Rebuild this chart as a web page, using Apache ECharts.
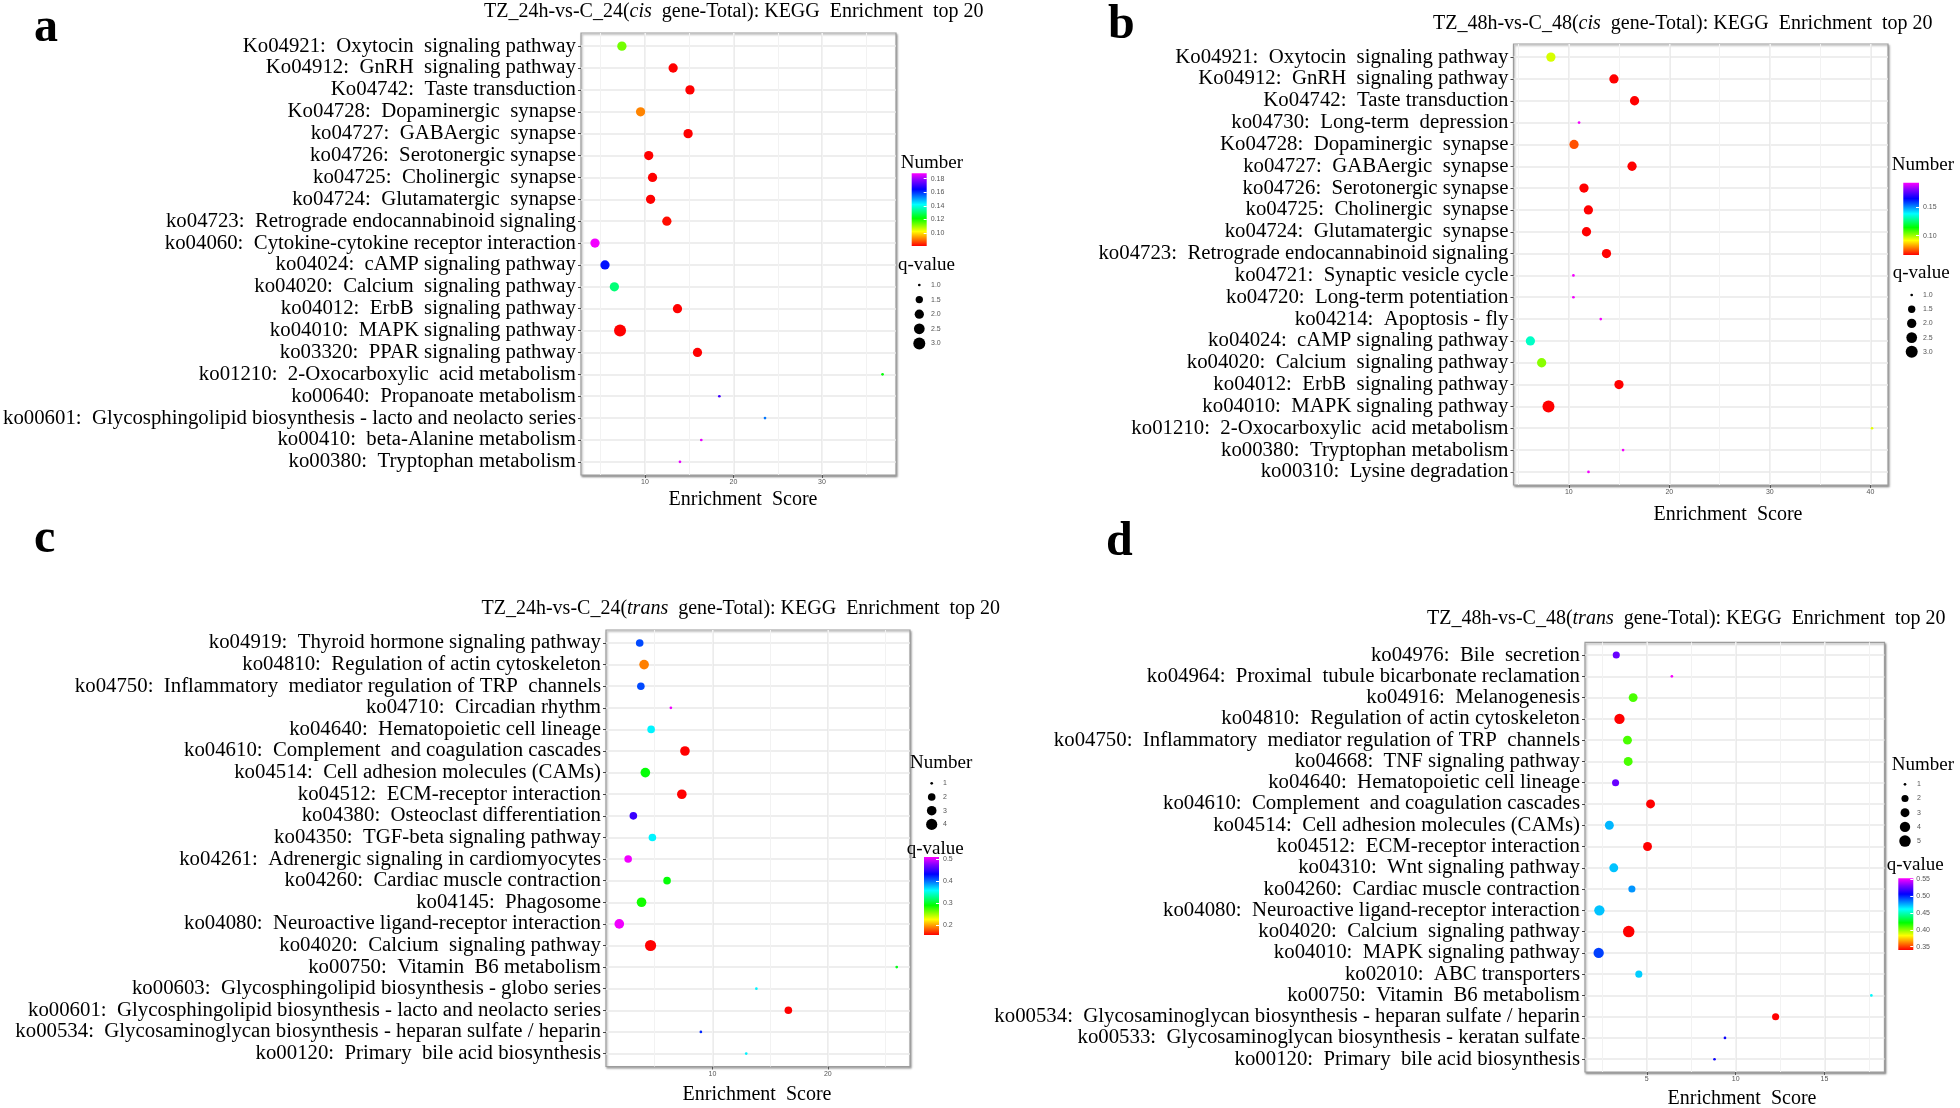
<!DOCTYPE html>
<html>
<head>
<meta charset="utf-8">
<script src="https://cdn.jsdelivr.net/npm/echarts@6/dist/echarts.min.js"></script>
<style>
html, body { margin: 0; padding: 0; background: #fff; }
#chart { width: 1960px; height: 1108px; }
</style>
</head>
<body>
<div id="chart"></div>
<script>
// ---- panel a: TZ_24h vs C_24, cis genes ----
const aTerms = [
  'Ko04921:  Oxytocin  signaling pathway', 'Ko04912:  GnRH  signaling pathway', 'Ko04742:  Taste transduction',
  'Ko04728:  Dopaminergic  synapse', 'ko04727:  GABAergic  synapse', 'ko04726:  Serotonergic synapse',
  'ko04725:  Cholinergic  synapse', 'ko04724:  Glutamatergic  synapse', 'ko04723:  Retrograde endocannabinoid signaling',
  'ko04060:  Cytokine-cytokine receptor interaction', 'ko04024:  cAMP signaling pathway', 'ko04020:  Calcium  signaling pathway',
  'ko04012:  ErbB  signaling pathway', 'ko04010:  MAPK signaling pathway', 'ko03320:  PPAR signaling pathway',
  'ko01210:  2-Oxocarboxylic  acid metabolism', 'ko00640:  Propanoate metabolism',
  'ko00601:  Glycosphingolipid biosynthesis - lacto and neolacto series', 'ko00410:  beta-Alanine metabolism',
  'ko00380:  Tryptophan metabolism'
];
const aScore = [7.39, 13.18, 15.08, 9.5, 14.87, 10.42, 10.85, 10.63, 12.47, 4.35, 5.48, 6.54, 13.67, 7.18, 15.93, 36.84, 18.4, 23.56, 16.36, 13.95];
const aColor = [0.113, 0.081, 0.081, 0.092, 0.081, 0.081, 0.081, 0.081, 0.082, 0.187, 0.163, 0.131, 0.081, 0.081, 0.081, 0.122, 0.171, 0.154, 0.186, 0.186];
const aSize = [2, 2, 2, 2, 2, 2, 2, 2, 2, 2, 2, 2, 2, 3, 2, 1, 1, 1, 1, 1];
const aSizeTicks = [1, 1.5, 2, 2.5, 3];

// ---- panel b: TZ_48h vs C_48, cis genes ----
const bTerms = [
  'Ko04921:  Oxytocin  signaling pathway', 'Ko04912:  GnRH  signaling pathway', 'Ko04742:  Taste transduction',
  'ko04730:  Long-term  depression', 'Ko04728:  Dopaminergic  synapse', 'ko04727:  GABAergic  synapse',
  'ko04726:  Serotonergic synapse', 'ko04725:  Cholinergic  synapse', 'ko04724:  Glutamatergic  synapse',
  'ko04723:  Retrograde endocannabinoid signaling', 'ko04721:  Synaptic vesicle cycle', 'ko04720:  Long-term potentiation',
  'ko04214:  Apoptosis - fly', 'ko04024:  cAMP signaling pathway', 'ko04020:  Calcium  signaling pathway',
  'ko04012:  ErbB  signaling pathway', 'ko04010:  MAPK signaling pathway', 'ko01210:  2-Oxocarboxylic  acid metabolism',
  'ko00380:  Tryptophan metabolism', 'ko00310:  Lysine degradation'
];
const bScore = [8.22, 14.49, 16.54, 11.02, 10.52, 16.29, 11.51, 11.95, 11.76, 13.75, 10.46, 10.46, 13.18, 6.18, 7.3, 14.99, 7.98, 40.16, 15.4, 11.96];
const bColor = [0.095, 0.066, 0.066, 0.192, 0.074, 0.066, 0.066, 0.066, 0.066, 0.066, 0.192, 0.192, 0.192, 0.133, 0.102, 0.066, 0.066, 0.094, 0.192, 0.192];
const bSize = [2, 2, 2, 1, 2, 2, 2, 2, 2, 2, 1, 1, 1, 2, 2, 2, 3, 1, 1, 1];
const bSizeTicks = [1, 1.5, 2, 2.5, 3];

// ---- panel c: TZ_24h vs C_24, trans genes ----
const cTerms = [
  'ko04919:  Thyroid hormone signaling pathway', 'ko04810:  Regulation of actin cytoskeleton',
  'ko04750:  Inflammatory  mediator regulation of TRP  channels', 'ko04710:  Circadian rhythm',
  'ko04640:  Hematopoietic cell lineage', 'ko04610:  Complement  and coagulation cascades',
  'ko04514:  Cell adhesion molecules (CAMs)', 'ko04512:  ECM-receptor interaction',
  'ko04380:  Osteoclast differentiation', 'ko04350:  TGF-beta signaling pathway',
  'ko04261:  Adrenergic signaling in cardiomyocytes', 'ko04260:  Cardiac muscle contraction',
  'ko04145:  Phagosome', 'ko04080:  Neuroactive ligand-receptor interaction', 'ko04020:  Calcium  signaling pathway',
  'ko00750:  Vitamin  B6 metabolism', 'ko00603:  Glycosphingolipid biosynthesis - globo series',
  'ko00601:  Glycosphingolipid biosynthesis - lacto and neolacto series',
  'ko00534:  Glycosaminoglycan biosynthesis - heparan sulfate / heparin', 'ko00120:  Primary  bile acid biosynthesis'
];
const cScore = [3.7, 4.08, 3.8, 6.4, 4.69, 7.62, 4.19, 7.35, 3.15, 4.8, 2.7, 6.07, 3.86, 1.93, 4.64, 25.97, 13.81, 16.58, 9.0, 12.93];
const cColor = [0.41, 0.19, 0.41, 0.505, 0.36, 0.155, 0.29, 0.155, 0.45, 0.36, 0.505, 0.29, 0.285, 0.505, 0.155, 0.295, 0.36, 0.155, 0.42, 0.36];
const cSize = [2, 3, 2, 1, 2, 3, 3, 3, 2, 2, 2, 2, 3, 3, 4, 1, 1, 2, 1, 1];
const cSizeTicks = [1, 2, 3, 4];

// ---- panel d: TZ_48h vs C_48, trans genes ----
const dTerms = [
  'ko04976:  Bile  secretion', 'ko04964:  Proximal  tubule bicarbonate reclamation', 'ko04916:  Melanogenesis',
  'ko04810:  Regulation of actin cytoskeleton', 'ko04750:  Inflammatory  mediator regulation of TRP  channels',
  'ko04668:  TNF signaling pathway', 'ko04640:  Hematopoietic cell lineage', 'ko04610:  Complement  and coagulation cascades',
  'ko04514:  Cell adhesion molecules (CAMs)', 'ko04512:  ECM-receptor interaction', 'ko04310:  Wnt signaling pathway',
  'ko04260:  Cardiac muscle contraction', 'ko04080:  Neuroactive ligand-receptor interaction',
  'ko04020:  Calcium  signaling pathway', 'ko04010:  MAPK signaling pathway', 'ko02010:  ABC transporters',
  'ko00750:  Vitamin  B6 metabolism', 'ko00534:  Glycosaminoglycan biosynthesis - heparan sulfate / heparin',
  'ko00533:  Glycosaminoglycan biosynthesis - keratan sulfate', 'ko00120:  Primary  bile acid biosynthesis'
];
const dScore = [3.28, 6.41, 4.23, 3.46, 3.91, 3.95, 3.24, 5.21, 2.89, 5.04, 3.14, 4.16, 2.33, 3.98, 2.29, 4.55, 17.64, 12.25, 9.4, 8.81];
const dColor = [0.527, 0.552, 0.41, 0.340, 0.41, 0.41, 0.527, 0.340, 0.474, 0.340, 0.472, 0.48, 0.472, 0.340, 0.495, 0.47, 0.462, 0.340, 0.508, 0.508];
const dSize = [2, 1, 3, 4, 3, 3, 2, 3, 3, 3, 3, 2, 4, 5, 4, 2, 1, 2, 1, 1];
const dSizeTicks = [1, 2, 3, 4, 5];

const SERIF = 'Liberation Serif';

// rainbow colour scale, red (low) -> magenta (high)
const rainbowStops = [[0, '#ff0000'], [0.1, '#ff8000'], [0.2, '#ffff00'], [0.38, '#00ff00'],
  [0.57, '#00ffff'], [0.78, '#0000ff'], [0.9, '#8000ff'], [1, '#ff00ff']];
function hexRgb(c) { return [1, 3, 5].map(i => parseInt(c.substr(i, 2), 16)); }
function rainbowAt(t) {
  for (let i = 1; i < rainbowStops.length; i++) {
    const [t0, c0] = rainbowStops[i - 1];
    const [t1, c1] = rainbowStops[i];
    if (t <= t1) {
      const f = (t - t0) / (t1 - t0), a = hexRgb(c0), b = hexRgb(c1);
      return 'rgb(' + a.map((v, k) => Math.round(v + (b[k] - v) * f)).join(',') + ')';
    }
  }
  return rainbowStops[rainbowStops.length - 1][1];
}
const rainbowColors = Array.from({ length: 41 }, (_, i) => rainbowAt(i / 40));
const barGradient = {
  type: 'linear', x: 0, y: 1, x2: 0, y2: 0,
  colorStops: rainbowStops.map(([o, c]) => ({ offset: o, color: c }))
};

const panels = [
  {
    title: 'TZ_24h-vs-C_24({i|cis}  gene-Total): KEGG  Enrichment  top 20', titlePos: [484, 1.6],
    letter: 'a', letterPos: [34, 29],
    grid: { left: 581, top: 33, width: 315, height: 442 },
    x: { min: 2.77, max: 38.36, step: 10 }, axisTitle: [743, 500],
    terms: aTerms, score: aScore, col: aColor, size: aSize,
    colRange: [0.081, 0.188], colStep: 0.02, colDec: 2,
    bar: { left: 911.7, top: 173.3, width: 15, height: 72.7, margin: 4 },
    sizeTicks: aSizeTicks, sizeDec: 1, dmax: 12,
    dots: { x: 919.3, y0: 285, step: 14.6, labelX: 931 },
    legendTitles: [['Number', 900.7, 162.7], ['q-value', 898, 265]]
  },
  {
    title: 'TZ_48h-vs-C_48({i|cis}  gene-Total): KEGG  Enrichment  top 20', titlePos: [1433, 13.6],
    letter: 'b', letterPos: [1108, 26],
    grid: { left: 1513.5, top: 44, width: 374.5, height: 441 },
    x: { min: 4.5, max: 41.75, step: 10 }, axisTitle: [1728, 515],
    terms: bTerms, score: bScore, col: bColor, size: bSize,
    colRange: [0.066, 0.193], colStep: 0.05, colDec: 2,
    bar: { left: 1903.3, top: 182.7, width: 15.7, height: 72.3, margin: 4 },
    sizeTicks: bSizeTicks, sizeDec: 1, dmax: 12,
    dots: { x: 1911.7, y0: 295, step: 14.2, labelX: 1923 },
    legendTitles: [['Number', 1891.7, 165], ['q-value', 1892.7, 273.3]]
  },
  {
    title: 'TZ_24h-vs-C_24({i|trans}  gene-Total): KEGG  Enrichment  top 20', titlePos: [481.5, 598.6],
    letter: 'c', letterPos: [34, 540],
    grid: { left: 606, top: 630, width: 304, height: 436.5 },
    x: { min: 0.78, max: 27.12, step: 10 }, axisTitle: [757, 1095],
    terms: cTerms, score: cScore, col: cColor, size: cSize,
    colRange: [0.155, 0.509], colStep: 0.1, colDec: 1,
    bar: { left: 924, top: 857, width: 15, height: 78, margin: 4 },
    sizeTicks: cSizeTicks, sizeDec: 0, dmax: 11.2,
    dots: { x: 931.7, y0: 783.3, step: 13.7, labelX: 943 },
    legendTitles: [['Number', 910, 763], ['q-value', 906.7, 849]]
  },
  {
    title: 'TZ_48h-vs-C_48({i|trans}  gene-Total): KEGG  Enrichment  top 20', titlePos: [1427, 609],
    letter: 'd', letterPos: [1106, 543],
    grid: { left: 1585, top: 642.3, width: 299.5, height: 429.7 },
    x: { min: 1.52, max: 18.38, step: 5 }, axisTitle: [1742, 1099],
    terms: dTerms, score: dScore, col: dColor, size: dSize,
    colRange: [0.340, 0.553], colStep: 0.05, colDec: 2,
    bar: { left: 1898.3, top: 878.3, width: 15, height: 71.7, margin: 3 },
    sizeTicks: dSizeTicks, sizeDec: 0, dmax: 11.5,
    dots: { x: 1905, y0: 784.3, step: 14.2, labelX: 1917 },
    legendTitles: [['Number', 1891.7, 765], ['q-value', 1886.7, 865]]
  }
];

// ggplot-like area scale: diameter grows with sqrt of the rescaled value
function dotSize(v, p) {
  const lo = p.sizeTicks[0], hi = p.sizeTicks[p.sizeTicks.length - 1];
  const t = Math.max(0, (v - lo) / (hi - lo));
  return 2.7 + (p.dmax - 2.7) * Math.sqrt(t);
}

const grid = [], xAxis = [], yAxis = [], series = [], visualMap = [], title = [], graphic = [];
const noLine = { show: false, onZero: false };

panels.forEach(p => {
  const n = p.terms.length;

  // main bubble panel
  const gi = grid.length;
  grid.push(Object.assign({
    outerBoundsMode: 'none',
    show: true, backgroundColor: '#fff', borderColor: '#9c9c9c', borderWidth: 1.2,
    shadowColor: 'rgba(0,0,0,0.35)', shadowBlur: 2, shadowOffsetX: 1, shadowOffsetY: 1.5
  }, p.grid));
  const xi = xAxis.length;
  xAxis.push({
    gridIndex: gi, type: 'value', position: 'bottom', min: p.x.min, max: p.x.max,
    minInterval: p.x.step, maxInterval: p.x.step,
    axisLine: noLine,
    axisTick: { show: true, length: 3, lineStyle: { color: '#555' } },
    axisLabel: { fontSize: 7, color: '#555', margin: 4, fontFamily: 'Liberation Sans', showMinLabel: false, showMaxLabel: false },
    splitLine: { show: true, showMinLine: false, showMaxLine: false, lineStyle: { color: '#e6e6e6', width: 1.5 } }
  });
  xAxis.push({
    gridIndex: gi, type: 'value', position: 'bottom', min: p.x.min, max: p.x.max,
    minInterval: p.x.step / 2, maxInterval: p.x.step / 2,
    axisLine: noLine, axisTick: { show: false }, axisLabel: { show: false },
    splitLine: { show: true, showMinLine: false, showMaxLine: false, lineStyle: { color: '#f2f2f2', width: 1 } }
  });
  const yi = yAxis.length;
  yAxis.push({
    gridIndex: gi, type: 'value', inverse: true, min: -0.6, max: n - 0.4,
    minInterval: 1, maxInterval: 1,
    axisLine: noLine,
    axisTick: { show: true, length: 3, lineStyle: { color: '#444' } },
    axisLabel: {
      fontFamily: SERIF, fontSize: 20.8, color: '#000', margin: 5, showMinLabel: false, showMaxLabel: false,
      formatter: v => {
        const k = Math.round(v);
        return Math.abs(v - k) < 1e-6 && k >= 0 && k < n ? p.terms[k] : '';
      }
    },
    splitLine: { show: true, showMinLine: false, showMaxLine: false, lineStyle: { color: '#e9e9e9', width: 1.5 } }
  });
  series.push({
    type: 'scatter', xAxisIndex: xi, yAxisIndex: yi, silent: true, z: 3,
    data: p.score.map((s, i) => [s, i, p.col[i], p.size[i]]),
    symbolSize: v => dotSize(v[3], p),
    itemStyle: { opacity: 1 }
  });
  visualMap.push({
    type: 'continuous', show: false, seriesIndex: series.length - 1, dimension: 2,
    min: p.colRange[0], max: p.colRange[1], inRange: { color: rainbowColors }
  });

  // colour bar legend
  const cg = grid.length;
  grid.push({
    outerBoundsMode: 'none',
    left: p.bar.left, top: p.bar.top, width: p.bar.width, height: p.bar.height,
    show: true, borderWidth: 0, backgroundColor: barGradient
  });
  xAxis.push({ gridIndex: cg, type: 'value', show: false, min: 0, max: 1, axisLine: noLine });
  yAxis.push({
    gridIndex: cg, type: 'value', position: 'right', min: p.colRange[0], max: p.colRange[1],
    minInterval: p.colStep, maxInterval: p.colStep,
    axisLine: noLine, splitLine: { show: false },
    axisTick: { show: true, inside: true, length: 3, lineStyle: { color: '#fff' } },
    axisLabel: {
      fontSize: 7, color: '#555', fontFamily: 'Liberation Sans', margin: p.bar.margin,
      showMinLabel: false, showMaxLabel: false, formatter: v => v.toFixed(p.colDec)
    }
  });

  // size legend
  const sg = grid.length;
  const k = p.sizeTicks.length;
  grid.push({
    outerBoundsMode: 'none',
    left: p.dots.x - 6, top: p.dots.y0 - p.dots.step / 2, width: 12, height: k * p.dots.step
  });
  const sxi = xAxis.length;
  xAxis.push({ gridIndex: sg, type: 'value', show: false, min: 0, max: 1, axisLine: noLine });
  const syi = yAxis.length;
  yAxis.push({
    gridIndex: sg, type: 'category', inverse: true, position: 'right',
    data: p.sizeTicks.map(v => v.toFixed(p.sizeDec)),
    axisLine: noLine, axisTick: { show: false }, splitLine: { show: false },
    axisLabel: { interval: 0, fontSize: 7, color: '#555', fontFamily: 'Liberation Sans', margin: p.dots.labelX - (p.dots.x + 6) }
  });
  series.push({
    type: 'scatter', xAxisIndex: sxi, yAxisIndex: syi, silent: true,
    data: p.sizeTicks.map((v, i) => [0.5, i, v]),
    symbolSize: v => dotSize(v[2], p),
    itemStyle: { color: '#000', opacity: 1 }
  });

  // texts
  title.push({
    text: p.title, left: p.titlePos[0], top: p.titlePos[1], padding: 0,
    textStyle: {
      fontFamily: SERIF, fontSize: 20, fontWeight: 'normal', color: '#000',
      rich: { i: { fontFamily: SERIF, fontSize: 20, fontStyle: 'italic', color: '#000' } }
    }
  });
  graphic.push({
    type: 'text', left: p.letterPos[0], top: p.letterPos[1] - 24,
    style: { text: p.letter, font: 'bold 48px "Liberation Serif"', fill: '#000' }
  });
  graphic.push({
    type: 'text', x: p.axisTitle[0], y: p.axisTitle[1],
    style: { text: 'Enrichment  Score', font: '20px "Liberation Serif"', fill: '#000', align: 'center', verticalAlign: 'middle' }
  });
  p.legendTitles.forEach(([txt, lx, ly]) => {
    graphic.push({
      type: 'text', x: lx, y: ly,
      style: { text: txt, font: '19px "Liberation Serif"', fill: '#000', align: 'left', verticalAlign: 'middle' }
    });
  });
});

const chart = echarts.init(document.getElementById('chart'));
chart.setOption({
  backgroundColor: '#fff',
  animation: false,
  title: title,
  grid: grid,
  xAxis: xAxis,
  yAxis: yAxis,
  visualMap: visualMap,
  series: series,
  graphic: graphic
});
</script>
</body>
</html>
